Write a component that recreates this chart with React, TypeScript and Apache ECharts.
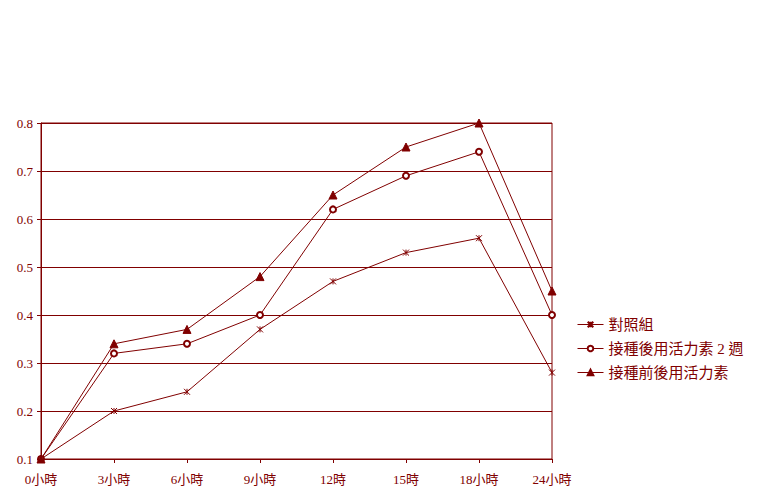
import React, { useEffect, useRef } from "react";
import * as echarts from "echarts";

const categories = ["0小時", "3小時", "6小時", "9小時", "12時", "15時", "18小時", "24小時"];
const controlGroup = [0.1, 0.2, 0.24, 0.37, 0.47, 0.53, 0.56, 0.28];
const afterTwoWeeks = [0.1, 0.32, 0.34, 0.4, 0.62, 0.69, 0.74, 0.4];
const beforeAndAfter = [0.1, 0.34, 0.37, 0.48, 0.65, 0.75, 0.8, 0.45];
const seriesNames = ["對照組", "接種後用活力素 2 週", "接種前後用活力素"];

const MAROON = "#800000";
const FONT = "'Liberation Serif', 'Noto Sans CJK TC', serif";

const App = () => {
  const chartRef = useRef<HTMLDivElement>(null);

  useEffect(() => {
    document.body.style.margin = "0";
    // @ts-ignore
    const chart = echarts.init(chartRef.current, null, { renderer: "svg" });

    const options = {
      animation: false,
      color: [MAROON, MAROON, MAROON],
      grid: {
        left: 41,
        right: 227,
        top: 123,
        bottom: 42,
        show: true,
        borderColor: MAROON,
        borderWidth: 1,
      },
      legend: {
        orient: "vertical",
        left: 572,
        top: 312,
        itemWidth: 26,
        itemHeight: 7,
        itemGap: 9,
        lineStyle: { width: 1 },
        textStyle: { color: MAROON, fontSize: 15, fontFamily: FONT },
      },
      xAxis: {
        type: "category",
        data: categories,
        boundaryGap: false,
        axisLine: { lineStyle: { color: MAROON, width: 1 } },
        axisTick: { show: true, length: 4, inside: false, lineStyle: { color: MAROON } },
        axisLabel: { color: MAROON, fontSize: 13, fontFamily: FONT, margin: 14 },
      },
      yAxis: {
        type: "value",
        min: 0.1,
        max: 0.8,
        interval: 0.1,
        axisLine: { show: true, lineStyle: { color: MAROON, width: 1 } },
        axisTick: { show: true, length: 4, lineStyle: { color: MAROON } },
        axisLabel: {
          color: MAROON,
          fontSize: 13,
          fontFamily: FONT,
          margin: 8,
          formatter: (v: number) => String(Math.round(v * 10) / 10),
        },
        splitLine: { show: true, lineStyle: { color: MAROON, width: 1 } },
      },
      series: [
        {
          name: seriesNames[0],
          type: "line",
          data: controlGroup,
          symbol: "path://M0 0L10 10M10 0L0 10M5 0L5 10",
          symbolSize: 6,
          showAllSymbol: true,
          lineStyle: { color: MAROON, width: 1 },
          itemStyle: { color: MAROON, borderColor: MAROON, borderWidth: 1 },
        },
        {
          name: seriesNames[1],
          type: "line",
          data: afterTwoWeeks,
          symbol: "emptyCircle",
          symbolSize: 6,
          showAllSymbol: true,
          lineStyle: { color: MAROON, width: 1 },
          itemStyle: { color: MAROON, borderColor: MAROON, borderWidth: 1 },
        },
        {
          name: seriesNames[2],
          type: "line",
          data: beforeAndAfter,
          symbol: "triangle",
          symbolSize: 8,
          showAllSymbol: true,
          lineStyle: { color: MAROON, width: 1 },
          itemStyle: { color: MAROON, borderColor: MAROON, borderWidth: 1 },
        },
      ],
    };

    chart.setOption(options);

    return () => {
      chart.dispose();
    };
  }, []);

  return <div ref={chartRef} style={{ width: "779px", height: "501px" }} />;
};

export default App;
